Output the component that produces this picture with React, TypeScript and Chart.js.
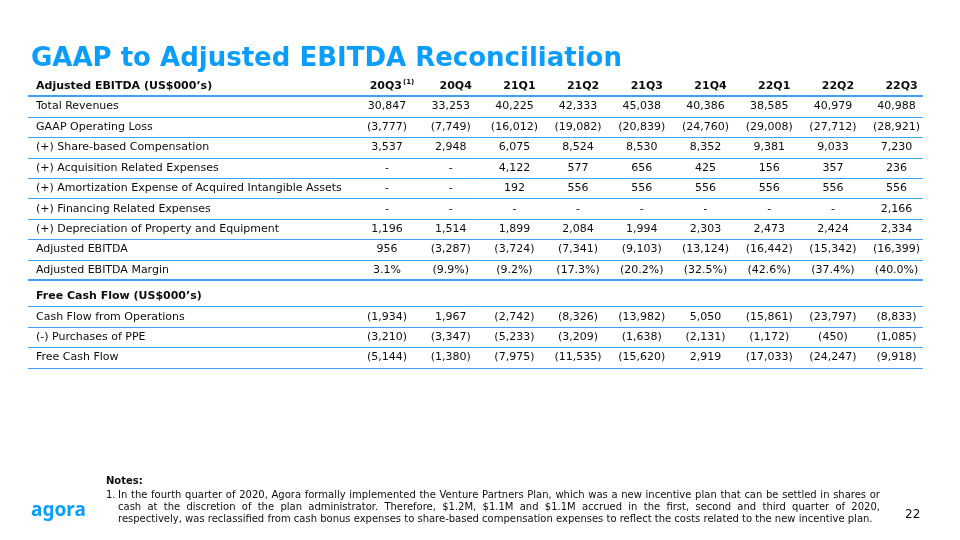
import React, { useEffect, useRef } from "react";
import { Chart, registerables } from "chart.js";

Chart.register(...registerables);

// ---------- data ----------
const QUARTERS = ["20Q3", "20Q4", "21Q1", "21Q2", "21Q3", "21Q4", "22Q1", "22Q2", "22Q3"];
const QUARTER_NOTES = ["(1)", "", "", "", "", "", "", "", ""];

const SECTION_EBITDA = "Adjusted EBITDA (US$000’s)";
const SECTION_FCF = "Free Cash Flow (US$000’s)";

const totalRevenues = [30847, 33253, 40225, 42333, 45038, 40386, 38585, 40979, 40988];
const gaapOperatingLoss = [-3777, -7749, -16012, -19082, -20839, -24760, -29008, -27712, -28921];
const shareBasedComp = [3537, 2948, 6075, 8524, 8530, 8352, 9381, 9033, 7230];
const acquisitionExp = [null, null, 4122, 577, 656, 425, 156, 357, 236];
const amortizationExp = [null, null, 192, 556, 556, 556, 556, 556, 556];
const financingExp = [null, null, null, null, null, null, null, null, 2166];
const depreciation = [1196, 1514, 1899, 2084, 1994, 2303, 2473, 2424, 2334];
const adjustedEbitda = [956, -3287, -3724, -7341, -9103, -13124, -16442, -15342, -16399];
const adjustedEbitdaMargin = [3.1, -9.9, -9.2, -17.3, -20.2, -32.5, -42.6, -37.4, -40.0];
const cashFlowOps = [-1934, 1967, -2742, -8326, -13982, 5050, -15861, -23797, -8833];
const purchasesPPE = [-3210, -3347, -5233, -3209, -1638, -2131, -1172, -450, -1085];
const freeCashFlow = [-5144, -1380, -7975, -11535, -15620, 2919, -17033, -24247, -9918];

const NOTE_LINES = [
  "In the fourth quarter of 2020, Agora formally implemented the Venture Partners Plan, which was a new incentive plan that can be settled in shares or",
  "cash at the discretion of the plan administrator. Therefore, $1.2M, $1.1M and $1.1M accrued in the first, second and third quarter of 2020,",
  "respectively, was reclassified from cash bonus expenses to share-based compensation expenses to reflect the costs related to the new incentive plan.",
];

type Row = { label: string; values?: (number | null)[]; kind?: "head" | "section"; pct?: boolean; thick?: boolean };

const ROWS: Row[] = [
  { label: SECTION_EBITDA, kind: "head", thick: true },
  { label: "Total Revenues", values: totalRevenues },
  { label: "GAAP Operating Loss", values: gaapOperatingLoss },
  { label: "(+) Share-based Compensation", values: shareBasedComp },
  { label: "(+) Acquisition Related Expenses", values: acquisitionExp },
  { label: "(+) Amortization Expense of Acquired Intangible Assets", values: amortizationExp },
  { label: "(+) Financing Related Expenses", values: financingExp },
  { label: "(+) Depreciation of Property and Equipment", values: depreciation },
  { label: "Adjusted EBITDA", values: adjustedEbitda },
  { label: "Adjusted EBITDA Margin", values: adjustedEbitdaMargin, pct: true, thick: true },
  { label: SECTION_FCF, kind: "section" },
  { label: "Cash Flow from Operations", values: cashFlowOps },
  { label: "(-) Purchases of PPE", values: purchasesPPE },
  { label: "Free Cash Flow", values: freeCashFlow },
];

// row slots: section headers get a little extra room above them
const SECTION_GAP = 0.28;
const ROW_POS: number[] = (() => {
  const out: number[] = [];
  let p = 0;
  ROWS.forEach((r, i) => {
    if (i > 0 && r.kind === "section") p += SECTION_GAP;
    out.push(p);
    p += 1;
  });
  return out;
})();

const fmt = (v: number | null, pct?: boolean) => {
  if (v === null || v === undefined) return "-";
  const abs = Math.abs(v);
  const s = pct ? abs.toFixed(1) + "%" : abs.toLocaleString("en-US");
  return v < 0 ? `(${s})` : s;
};

// ---------- style ----------
const FONT = '"DejaVu Sans", Verdana, sans-serif';
const BLUE = "#0A9DFB";
const LINE_BLUE = "#3AA3F3";
const TEXT = "#0d0d0d";
const LABEL_X = 36;
const TABLE_LEFT = 28;
const TABLE_RIGHT_INSET = 5.5;
const HEADER_SHIFT = 5;

const tablePlugin = {
  id: "tablePlugin",
  afterDraw(chart: any) {
    const ctx = chart.ctx as CanvasRenderingContext2D;
    const xs = chart.scales.x;
    const ys = chart.scales.y;
    const right = chart.chartArea.right - TABLE_RIGHT_INSET;
    ctx.save();
    // rule lines under each row
    ROWS.forEach((row, r) => {
      const y = ys.getPixelForValue(ROW_POS[r] + 0.5);
      ctx.strokeStyle = LINE_BLUE;
      ctx.lineWidth = row.thick ? 2 : 1;
      const yy = row.thick ? Math.round(y) : Math.round(y) + 0.5;
      ctx.beginPath();
      ctx.moveTo(TABLE_LEFT, yy);
      ctx.lineTo(right, yy);
      ctx.stroke();
    });
    ctx.textBaseline = "middle";
    ctx.fillStyle = TEXT;
    ROWS.forEach((row, r) => {
      const y = ys.getPixelForValue(ROW_POS[r]);
      const bold = row.kind === "head" || row.kind === "section";
      ctx.font = `${bold ? "bold " : ""}11px ${FONT}`;
      ctx.textAlign = "left";
      ctx.fillText(row.label, LABEL_X, y);
      if (row.kind === "head") {
        QUARTERS.forEach((q, i) => {
          const cx = xs.getPixelForValue(i) + HEADER_SHIFT;
          ctx.font = `bold 11px ${FONT}`;
          const w1 = ctx.measureText(q).width;
          const note = QUARTER_NOTES[i];
          ctx.font = `bold 7px ${FONT}`;
          const w2 = note ? ctx.measureText(note).width + 1 : 0;
          const x0 = cx - (w1 + w2) / 2;
          ctx.textAlign = "left";
          ctx.font = `bold 11px ${FONT}`;
          ctx.fillText(q, x0, y);
          if (note) {
            ctx.font = `bold 7px ${FONT}`;
            ctx.fillText(note, x0 + w1 + 1, y - 3.5);
          }
        });
      } else if (row.values) {
        ctx.font = `11px ${FONT}`;
        ctx.textAlign = "center";
        row.values.forEach((v, i) => {
          ctx.fillText(fmt(v, row.pct), xs.getPixelForValue(i), y);
        });
      }
    });
    ctx.restore();
  },
};

export default function App() {
  const ref = useRef<HTMLCanvasElement | null>(null);
  useEffect(() => {
    document.body.style.margin = "0";
    const canvas = ref.current!;
    const chart = new Chart(canvas, {
      type: "bar",
      data: { labels: QUARTERS, datasets: [] },
      options: {
        responsive: false,
        animation: false,
        devicePixelRatio: 1,
        layout: { padding: { left: 355.15, right: 31.55, top: 75.78, bottom: 171.8 } },
        plugins: { legend: { display: false }, tooltip: { enabled: false }, title: { display: false } },
        scales: {
          x: { type: "category", offset: true, display: false },
          y: { type: "linear", min: -0.5, max: 13.8, reverse: true, display: false },
        },
      },
      plugins: [tablePlugin],
    });
    return () => chart.destroy();
  }, []);

  return (
    <div style={{ position: "fixed", left: 0, top: 0, width: 960, height: 540, background: "#fff", overflow: "hidden" }}>
      <canvas ref={ref} width={960} height={540} style={{ position: "absolute", left: 0, top: 0 }} />
      <div
        style={{
          position: "absolute", left: 31, top: 44, font: `bold 26px ${FONT}`, lineHeight: "26px",
          color: BLUE, whiteSpace: "nowrap",
        }}
      >
        GAAP to Adjusted EBITDA Reconciliation
      </div>
      <div style={{ position: "absolute", left: 106, top: 475, font: `bold 10px ${FONT}`, lineHeight: "12px", color: TEXT }}>
        Notes:
      </div>
      <div style={{ position: "absolute", left: 106, top: 489, font: `10px ${FONT}`, lineHeight: "12px", color: TEXT }}>1.</div>
      {NOTE_LINES.map((ln, i) => (
        <div
          key={i}
          style={{
            position: "absolute", left: 118, top: 489 + i * 12, width: 762, font: `10px ${FONT}`, lineHeight: "12px",
            color: TEXT, whiteSpace: "nowrap", textAlign: i < NOTE_LINES.length - 1 ? "justify" : "left",
            textAlignLast: i < NOTE_LINES.length - 1 ? "justify" : "left",
          } as any}
        >
          {ln}
        </div>
      ))}
      <div style={{ position: "absolute", left: 905, top: 508, font: `12px ${FONT}`, lineHeight: "13px", color: TEXT }}>22</div>
      <div
        style={{
          position: "absolute", left: 31, top: 500, font: `700 19px "Noto Sans", sans-serif`, lineHeight: "19px", color: BLUE,
        }}
      >
        agora
      </div>
    </div>
  );
}
